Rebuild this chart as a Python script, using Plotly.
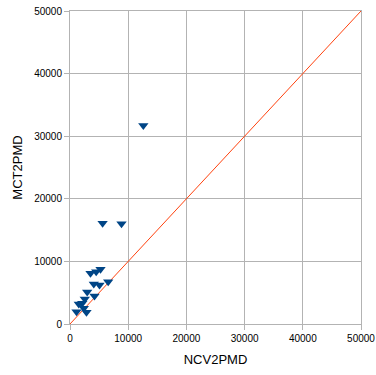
import plotly.graph_objects as go

# NCV2PMD vs MCT2PMD observations
ncv2pmd = [12600, 5600, 8850, 5240, 4500, 3520, 4090, 5070, 6560, 2955, 4210,
           2540, 2100, 1510, 2370, 1120, 2830]
mct2pmd = [31700, 16100, 16000, 8735, 8350, 8100, 6390, 6230, 6755, 5110, 4470,
           3990, 3300, 3190, 2500, 1960, 1870]

# identity reference line
ref_x = [0, 50000]
ref_y = [0, 50000]

tick_vals = [0, 10000, 20000, 30000, 40000, 50000]

fig = go.Figure()
fig.add_trace(go.Scatter(
    x=ref_x, y=ref_y, mode="lines",
    line=dict(color="#ff420e", width=1),
    showlegend=False, hoverinfo="skip",
))
fig.add_trace(go.Scatter(
    x=ncv2pmd, y=mct2pmd, mode="markers",
    marker=dict(symbol="triangle-down", size=9, color="#004586"),
    showlegend=False,
))

axis_common = dict(
    range=[0, 50000], tickvals=tick_vals, ticktext=[str(v) for v in tick_vals],
    showgrid=True, gridcolor="#b3b3b3", gridwidth=1,
    zeroline=False, showline=True, linecolor="#b3b3b3", linewidth=1, mirror=True,
    ticks="outside", ticklen=5, tickcolor="#b3b3b3", automargin=False,
    tickfont=dict(family="Liberation Sans", size=10, color="#000000"),
)

fig.update_layout(
    width=376, height=375,
    margin=dict(l=70, r=15, t=11, b=51),
    paper_bgcolor="white", plot_bgcolor="white",
    xaxis=dict(axis_common, title=dict(text="NCV2PMD", standoff=11,
               font=dict(family="Liberation Sans", size=13, color="#000000"))),
    yaxis=dict(axis_common, title=dict(text="MCT2PMD", standoff=8,
               font=dict(family="Liberation Sans", size=13, color="#000000"))),
)

fig.write_html("out.html")
